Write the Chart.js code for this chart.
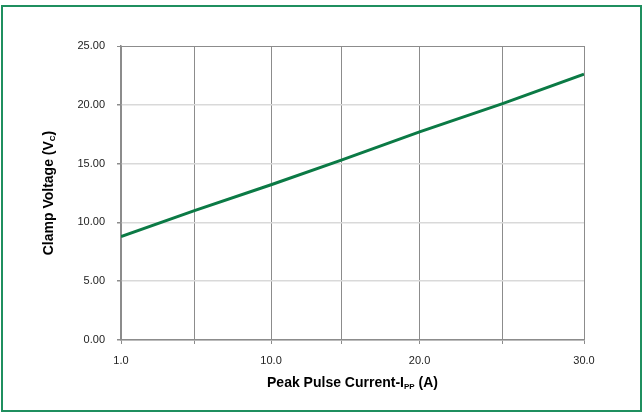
<!DOCTYPE html>
<html>
<head>
    <style>
        body {
            margin: 0;
            padding: 0;
            background-color: #ffffff;
        }
        #chartContainer {
            width: 644px;
            height: 414px;
        }
    </style>
</head>
<body>
    <div id="chartContainer">
        <canvas id="clampChart"></canvas>
    </div>

    <script src="https://cdn.jsdelivr.net/npm/chart.js"></script>

    <script>
// Values
const currentA = [1.0, 5.6, 10.4, 14.8, 19.7, 24.9, 30.0];      // Peak pulse current (A)
const clampV = [8.8, 11.0, 13.2, 15.3, 17.7, 20.1, 22.6];       // Clamp voltage (V)
const xGridTicks = [1.0, 5.6, 10.4, 14.8, 19.7, 24.9, 30.0];    // where the vertical gridlines sit
const xTickLabels = ['1.0', '', '10.0', '', '20.0', '', '30.0'];
const yTicks = [0, 5, 10, 15, 20, 25];

const lineGreen = '#0b7a45';
const frameGreen = '#1f8f5f';
const darkGrid = '#8c8c8c';
const lightGrid = '#d9d9d9';

// draws the axis titles (with subscripts) and the outer frame
const titlesPlugin = {
    id: 'titles',
    afterDraw(chart) {
        const ctx = chart.ctx;
        const area = chart.chartArea;
        ctx.save();

        // outer frame
        ctx.strokeStyle = frameGreen;
        ctx.lineWidth = 2;
        ctx.strokeRect(2, 6, 639, 405);

        const big = 'bold 14px "Liberation Sans", Arial, sans-serif';
        const small = 'bold 8px "Liberation Sans", Arial, sans-serif';
        ctx.fillStyle = '#000';
        ctx.textBaseline = 'middle';

        // x title: Peak Pulse Current-I_PP (A)
        const xParts = [['Peak Pulse Current-I', big, 0], ['PP', small, 4], [' (A)', big, 0]];
        let w = 0;
        xParts.forEach(p => { ctx.font = p[1]; w += ctx.measureText(p[0]).width; });
        let x = (area.left + area.right) / 2 - w / 2;
        xParts.forEach(p => {
            ctx.font = p[1];
            ctx.textAlign = 'left';
            ctx.fillText(p[0], x, 383 + p[2]);
            x += ctx.measureText(p[0]).width;
        });

        // y title: Clamp Voltage (V_C)
        ctx.translate(49, (area.top + area.bottom) / 2);
        ctx.rotate(-Math.PI / 2);
        const yParts = [['Clamp Voltage (V', big, 0], ['C', small, 4], [')', big, 0]];
        w = 0;
        yParts.forEach(p => { ctx.font = p[1]; w += ctx.measureText(p[0]).width; });
        x = -w / 2;
        yParts.forEach(p => {
            ctx.font = p[1];
            ctx.textAlign = 'left';
            ctx.fillText(p[0], x, p[2]);
            x += ctx.measureText(p[0]).width;
        });
        ctx.restore();
    }
};

const ctx = document.getElementById('clampChart').getContext('2d');
new Chart(ctx, {
    type: 'scatter',
    data: {
        datasets: [{
            data: currentA.map((c, i) => ({ x: c, y: clampV[i] })),
            showLine: true,
            borderColor: lineGreen,
            borderWidth: 3,
            pointRadius: 0,
            fill: false,
            tension: 0
        }]
    },
    options: {
        responsive: true,
        maintainAspectRatio: false,
        animation: false,
        layout: {
            padding: { top: 46, right: 60, bottom: 0, left: 0 }
        },
        plugins: {
            legend: { display: false },
            tooltip: { enabled: false }
        },
        scales: {
            x: {
                type: 'linear',
                min: 1,
                max: 30,
                afterBuildTicks: (scale) => {
                    scale.ticks = xGridTicks.map(v => ({ value: v }));
                },
                afterFit: (scale) => { scale.height = 74; },
                grid: {
                    color: darkGrid,
                    tickColor: darkGrid,
                    tickLength: 4,
                    lineWidth: 1
                },
                border: { color: darkGrid, width: 1.5 },
                ticks: {
                    autoSkip: false,
                    maxRotation: 0,
                    padding: 10,
                    color: '#222',
                    font: { size: 11, family: '"Liberation Sans", Arial, sans-serif' },
                    callback: (value, index) => xTickLabels[index]
                }
            },
            y: {
                min: 0,
                max: 25,
                afterBuildTicks: (scale) => {
                    scale.ticks = yTicks.map(v => ({ value: v }));
                },
                afterFit: (scale) => { scale.width = 121; },
                grid: {
                    color: (c) => c.tick && c.tick.value === 25 ? darkGrid : lightGrid,
                    tickColor: darkGrid,
                    tickLength: 4,
                    lineWidth: (c) => c.tick && c.tick.value === 25 ? 1 : 1.5
                },
                border: { color: darkGrid, width: 1.5 },
                ticks: {
                    padding: 12,
                    color: '#222',
                    font: { size: 11, family: '"Liberation Sans", Arial, sans-serif' },
                    callback: (value) => value.toFixed(2)
                }
            }
        }
    },
    plugins: [titlesPlugin]
});
    </script>
</body>
</html>
